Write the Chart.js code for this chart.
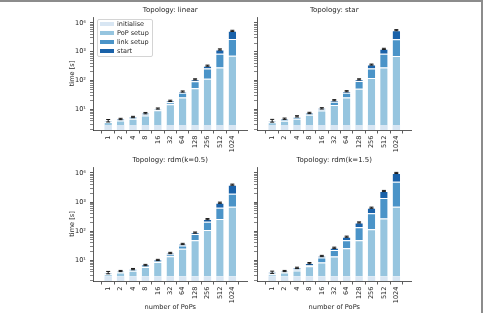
<!DOCTYPE html>
<html>
<head>
<meta charset="utf-8">
<title>Setup time per topology</title>
<script src="https://cdn.jsdelivr.net/npm/chart.js"></script>
<style>
  body { margin: 0; background: #fff; font-family: 'DejaVu Sans', sans-serif; }
  #fig { position: relative; width: 483px; height: 313px; overflow: hidden; }
  #fig canvas { position: absolute; left: 0; top: 0; }
  .frame { position: absolute; left: 0; top: 0; width: 483px; height: 313px; box-sizing: border-box;
           border-top: 2px solid #8c8c8c; border-right: 2px solid #8c8c8c; }
  .legend { position: absolute; left: 97px; top: 19px; padding: 0 3px 0 2px; border: 1px solid #d4d4d4;
            border-radius: 2px; background: rgba(255,255,255,0.85); font-size: 6.5px; color: #262626; }
  .legend div { height: 9px; line-height: 9px; white-space: nowrap; }
  .legend span { display: inline-block; width: 14px; height: 4.5px; margin-right: 3px; vertical-align: middle; }
</style>
</head>
<body>
<div id="fig">
  <canvas id="linear" width="483" height="313"></canvas>
  <canvas id="star" width="483" height="313"></canvas>
  <canvas id="rdm05" width="483" height="313"></canvas>
  <canvas id="rdm15" width="483" height="313"></canvas>
  <div class="legend" id="legend"></div>
  <div class="frame"></div>
</div>
<script>
// categories and series
const popCounts = ['1', '2', '4', '8', '16', '32', '64', '128', '256', '512', '1024'];
const seriesNames = ['initialise', 'PoP setup', 'link setup', 'start'];
const seriesColors = ['#d8e6f3', '#96c5df', '#4b94c8', '#1a62a9'];

// y axis
const yMin = 1.95, yMax = 16000;
const yMajorTicks = [10, 100, 1000, 10000];
const yTickLabels = ['10¹', '10²', '10³', '10⁴'];

// seconds per phase
const linearInit  = [2.9, 2.9, 2.9, 2.9, 2.9, 2.9, 2.9, 2.9, 2.9, 2.9, 2.9];
const linearPop   = [0.8, 1.3, 1.9, 3.3, 6.6, 12.3, 23.4, 52, 114, 282, 727];
const linearLink  = [0.2, 0.25, 0.4, 0.7, 0.7, 2.6, 11.7, 40, 146, 570, 2040];
const linearStart = [0.2, 0.25, 0.3, 0.6, 0.6, 2.2, 4, 16, 67, 345, 2530];
const linearErr   = [0.4, 0.25, 0.3, 0.4, 0.5, 1, 2, 5, 15, 60, 250];

const starInit  = [2.9, 2.9, 2.9, 2.9, 2.9, 2.9, 2.9, 2.9, 2.9, 2.9, 2.9];
const starPop   = [0.7, 1.2, 1.9, 3.7, 6.3, 11.5, 23.4, 49, 120, 282, 707];
const starLink  = [0.25, 0.35, 0.5, 0.5, 0.9, 4.3, 11.7, 45, 140, 570, 1990];
const starStart = [0.25, 0.35, 0.5, 0.5, 0.9, 2.3, 5, 14, 97, 405, 2900];
const starErr   = [0.45, 0.25, 0.3, 0.4, 0.6, 1, 2, 5, 15, 60, 250];

const rdm05Init  = [2.8, 2.8, 2.8, 2.8, 2.8, 2.8, 2.8, 2.8, 2.8, 2.8, 2.8];
const rdm05Pop   = [0.5, 1.0, 1.6, 3.1, 6.0, 10.9, 22.2, 46, 108, 257, 687];
const rdm05Link  = [0.25, 0.25, 0.3, 0.5, 0.75, 2.3, 7, 32, 99, 380, 1250];
const rdm05Start = [0.25, 0.25, 0.3, 0.5, 0.75, 1.9, 4.5, 9, 50, 310, 2020];
const rdm05Err   = [0.35, 0.2, 0.25, 0.35, 0.5, 0.9, 1.8, 4, 12, 45, 180];

const rdm15Init  = [2.8, 2.8, 2.8, 2.8, 2.8, 2.8, 2.8, 2.8, 2.8, 2.8, 2.8];
const rdm15Pop   = [0.5, 1.0, 1.7, 3.4, 5.7, 10.6, 23, 46, 114, 270, 687];
const rdm15Link  = [0.3, 0.25, 0.5, 0.7, 3.9, 9.3, 23, 88, 300, 1100, 4340];
const rdm15Start = [0.3, 0.25, 0.5, 1.1, 1.7, 4.3, 16, 63, 223, 1030, 4970];
const rdm15Err   = [0.35, 0.2, 0.3, 0.4, 0.7, 1.3, 3, 9, 30, 110, 450];

Chart.defaults.font.family = "'DejaVu Sans', sans-serif";
Chart.defaults.color = '#262626';

const AXIS = '#333333';
const W = 483, H = 313;
const TITLE_SIZE = 7, TICK_SIZE = 6.6, LABEL_SIZE = 6.6;

// black error bars on top of every stack
const errorBars = {
  id: 'errorBars',
  afterDatasetsDraw(chart, args, opts) {
    const errs = opts.values;
    if (!errs) return;
    const ctx = chart.ctx;
    const y = chart.scales.y;
    const meta = chart.getDatasetMeta(chart.data.datasets.length - 1);
    ctx.save();
    ctx.strokeStyle = '#1a1a1a';
    ctx.lineWidth = 1;
    errs.forEach((e, i) => {
      const total = chart.data.datasets.reduce((s, d) => s + d.data[i], 0);
      const x = meta.data[i].x;
      const y0 = y.getPixelForValue(total - e);
      const y1 = y.getPixelForValue(total + e);
      ctx.beginPath();
      ctx.moveTo(x, y0); ctx.lineTo(x, y1);
      ctx.moveTo(x - 2, y0); ctx.lineTo(x + 2, y0);
      ctx.moveTo(x - 2, y1); ctx.lineTo(x + 2, y1);
      ctx.stroke();
    });
    ctx.restore();
  }
};

function yTicks() {
  const out = [];
  for (let n = 0; n <= 4; n++) {
    for (let k = 1; k <= 9; k++) {
      const v = k * Math.pow(10, n);
      if (v >= yMin && v <= yMax) out.push({ value: v, major: k === 1 });
    }
  }
  return out;
}

function makePanel(id, title, series, errs, box) {
  const yWidth = box.yLabels ? 25.5 : 4;
  const xHeight = box.xTitle ? 313 - box.bottom : 25;
  const titleH = TITLE_SIZE * 1.2 + 2.5;
  new Chart(document.getElementById(id), {
    type: 'bar',
    data: {
      labels: popCounts.map((_, i) => i),
      datasets: series.map((d, k) => ({
        label: seriesNames[k],
        data: d,
        backgroundColor: seriesColors[k],
        borderColor: '#ffffff',
        borderWidth: { top: k === 0 ? 0 : 1, left: 0, right: 0, bottom: 0 },
        borderSkipped: false,
        categoryPercentage: 1,
        barPercentage: 0.6
      }))
    },
    options: {
      responsive: false,
      animation: false,
      events: [],
      layout: {
        padding: {
          left: box.left - yWidth,
          right: W - box.right,
          top: box.top - titleH,
          bottom: H - box.bottom - xHeight
        }
      },
      plugins: {
        legend: { display: false },
        tooltip: { enabled: false },
        title: {
          display: true,
          text: title,
          fullSize: false,
          font: { size: TITLE_SIZE, weight: 'normal' },
          color: '#262626',
          padding: { top: 0, bottom: 2.5 }
        },
        errorBars: { values: errs }
      },
      scales: {
        x: {
          type: 'linear',
          stacked: true,
          min: -0.62,
          max: 10.62,
          afterBuildTicks: s => { s.ticks = popCounts.map((_, i) => ({ value: i })); },
          afterFit: s => { s.height = xHeight; },
          grid: { drawOnChartArea: false, tickLength: 3.5, tickColor: AXIS, tickWidth: 0.8 },
          border: { color: AXIS, width: 0.8 },
          ticks: {
            autoSkip: false, maxRotation: 90, minRotation: 90, padding: 2,
            font: { size: TICK_SIZE }, color: '#262626',
            callback: v => popCounts[v]
          },
          title: {
            display: !!box.xTitle, text: 'number of PoPs',
            font: { size: LABEL_SIZE }, color: '#262626', padding: { top: 0, bottom: 1.5 }
          }
        },
        y: {
          type: 'logarithmic',
          stacked: true,
          min: yMin,
          max: yMax,
          afterBuildTicks: s => { s.ticks = yTicks(); },
          afterFit: s => { s.width = yWidth; },
          grid: {
            drawOnChartArea: false, tickLength: 3.5, tickColor: AXIS,
            tickWidth: c => (c.tick && c.tick.major ? 0.8 : 0.6)
          },
          border: { color: AXIS, width: 0.8 },
          ticks: {
            autoSkip: false, padding: 4, font: { size: TICK_SIZE }, color: '#262626',
            callback: v => {
              if (!box.yLabels) return '';
              const i = yMajorTicks.indexOf(v);
              return i >= 0 ? yTickLabels[i] : '';
            }
          },
          title: {
            display: !!box.yLabels, text: 'time [s]',
            font: { size: LABEL_SIZE }, color: '#262626', padding: { top: 0, bottom: 0 }
          }
        }
      }
    },
    plugins: [errorBars]
  });
}

makePanel('linear', 'Topology: linear',
  [linearInit, linearPop, linearLink, linearStart], linearErr,
  { left: 93.5, right: 247, top: 17, bottom: 130, yLabels: true });
makePanel('star', 'Topology: star',
  [starInit, starPop, starLink, starStart], starErr,
  { left: 257.5, right: 411, top: 17, bottom: 130 });
makePanel('rdm05', 'Topology: rdm(k=0.5)',
  [rdm05Init, rdm05Pop, rdm05Link, rdm05Start], rdm05Err,
  { left: 93.5, right: 247, top: 167, bottom: 281, yLabels: true, xTitle: true });
makePanel('rdm15', 'Topology: rdm(k=1.5)',
  [rdm15Init, rdm15Pop, rdm15Link, rdm15Start], rdm15Err,
  { left: 257.5, right: 411, top: 167, bottom: 281, xTitle: true });

// legend inside the first panel
const legend = document.getElementById('legend');
seriesNames.forEach((name, k) => {
  const row = document.createElement('div');
  const sw = document.createElement('span');
  sw.style.background = seriesColors[k];
  row.appendChild(sw);
  row.appendChild(document.createTextNode(name));
  legend.appendChild(row);
});
</script>
</body>
</html>
